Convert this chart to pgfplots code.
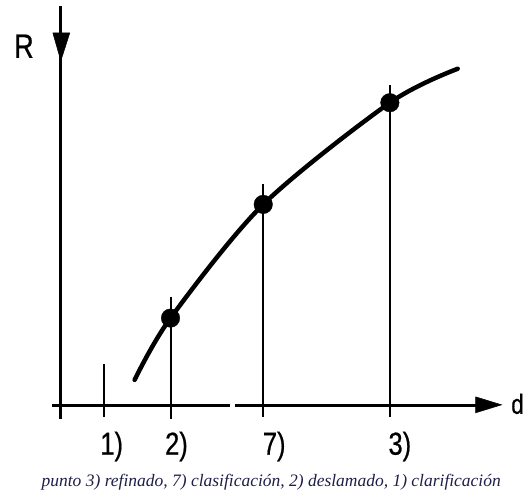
\documentclass[border=0pt]{standalone}
\usepackage{fontspec}
\setmainfont{Liberation Serif}
\newfontfamily\lab[FakeStretch=0.8,FakeBold=0.6]{Liberation Sans}
\usepackage{pgfplots}
\pgfplotsset{compat=1.18}
\definecolor{capcol}{HTML}{1E1E48}
\begin{document}
\begin{tikzpicture}
\begin{axis}[width=527bp,height=499bp,scale only axis,
  xmin=0,xmax=527,ymin=0,ymax=499,y dir=reverse,hide axis,clip=false]
\path (rel axis cs:0,0) rectangle (rel axis cs:1,1);
% axes
\addplot[black,line width=3bp] coordinates {(61,6) (61,420)};
\addplot[black,fill=black,line width=0.5bp] coordinates {(53,33) (70,33) (61,61) (53,33)} -- cycle;
\addplot[black,line width=3bp] coordinates {(52,407) (231,407)};
\addplot[black,line width=3bp] coordinates {(236,407) (480,407)};
\addplot[black,fill=black,line width=0.5bp] coordinates {(477,398) (477,414) (503,406) (477,398)} -- cycle;
% drop lines
\addplot[black,line width=2bp] coordinates {(104,365) (104,418)};
\addplot[black,line width=2bp] coordinates {(171,298) (171,420)};
\addplot[black,line width=2bp] coordinates {(264,185) (264,418)};
\addplot[black,line width=2bp] coordinates {(391,85) (391,418)};
% curve
\addplot[black,line width=4.5bp,smooth,line cap=round] coordinates {(135,381) (171,319) (264,205) (391,103) (459,69)};
\addplot[only marks,mark=*,mark size=9.3bp,black] coordinates {(171,319) (264,205) (391,103)};
% labels
\node[font=\lab\fontsize{34}{34}\selectfont,anchor=base] at (axis cs:24,58) {R};
\node[font=\lab\fontsize{28}{28}\selectfont,anchor=base] at (axis cs:519,415) {d};
\node[font=\lab\fontsize{32}{32}\selectfont,anchor=base] at (axis cs:112,456) {1)};
\node[font=\lab\fontsize{32}{32}\selectfont,anchor=base] at (axis cs:177,456) {2)};
\node[font=\lab\fontsize{32}{32}\selectfont,anchor=base] at (axis cs:275,456) {7)};
\node[font=\lab\fontsize{32}{32}\selectfont,anchor=base] at (axis cs:401,456) {3)};
\node[font=\itshape\fontsize{17.6}{17.6}\selectfont,text=capcol,anchor=base] at (axis cs:272,488) {punto 3) refinado, 7) clasificación, 2) deslamado, 1) clarificación};
\end{axis}
\end{tikzpicture}
\end{document}
